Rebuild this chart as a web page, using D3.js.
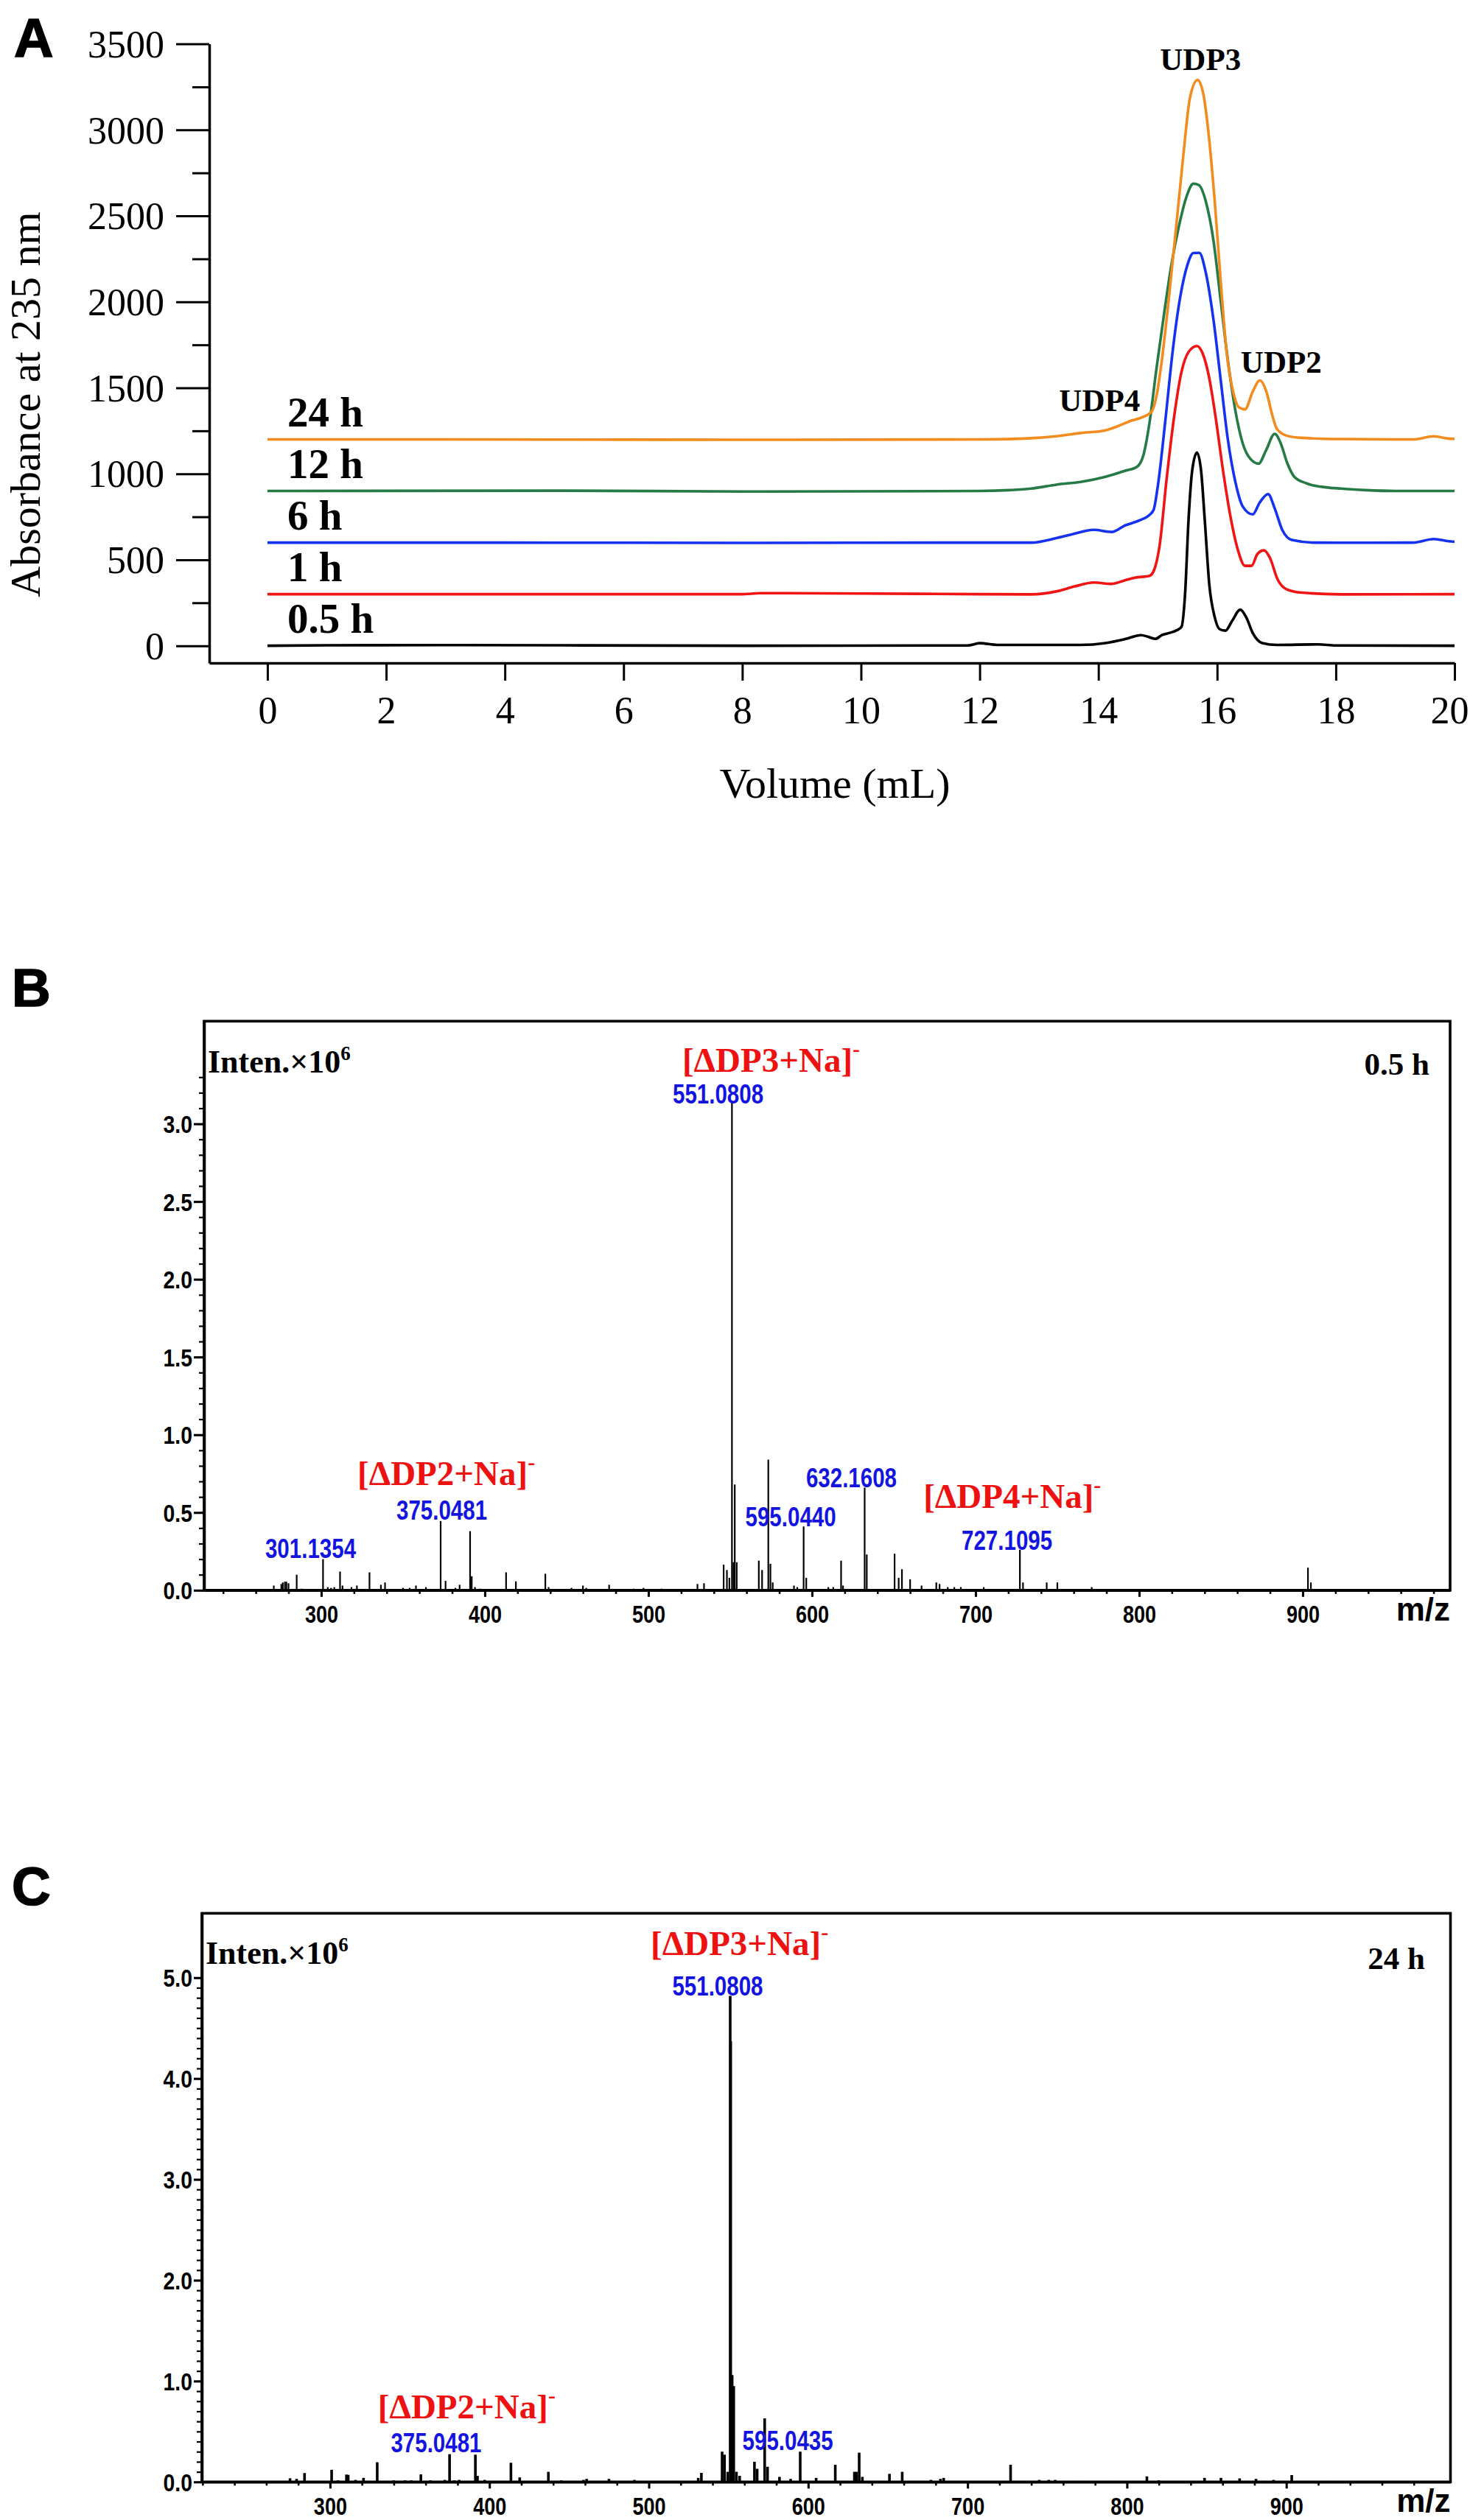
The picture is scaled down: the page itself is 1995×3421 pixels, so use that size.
<!DOCTYPE html>
<html><head><meta charset="utf-8">
<script src="https://cdn.jsdelivr.net/npm/d3@7"></script>
<style>
html,body{margin:0;padding:0;background:#fff;}
svg{display:block;background:#fff;}
</style></head><body>
<svg id="fig" width="1995" height="3421"></svg>
<script>
// ================= DATA =================
// Panel A: SEC chromatograms, [volume (mL), absorbance at 235 nm] (traces stacked with offsets as drawn)
const chromLabels = ["0.5 h", "1 h", "6 h", "12 h", "24 h"];
const chromBaselines = [0, 300, 600, 900, 1200];
const trace05h = [[0,0],[1,3],[3.3,4],[8,0],[11.8,2],[12,15],[12.3,5],[13.7,5],[14.12,16],[14.45,39],[14.72,62],[14.84,52],[14.96,40],[15.07,62],[15.2,75],[15.32,90],[15.4,110],[15.46,300],[15.52,741],[15.58,1018],[15.66,1124],[15.73,1018],[15.79,741],[15.87,350],[15.96,166],[16.04,97],[16.14,88],[16.25,143],[16.39,210],[16.49,166],[16.6,74],[16.76,16],[17.01,5],[17.7,8],[18,2],[20,0]];
const trace1h = [[0,300],[8,300],[8.3,306],[10,304],[12,300],[12.87,299],[13.29,316],[13.6,345],[13.92,368],[14.22,360],[14.42,378],[14.61,396],[14.86,407],[14.94,442],[15.03,580],[15.15,972],[15.27,1317],[15.4,1593],[15.52,1709],[15.66,1743],[15.76,1697],[15.86,1570],[15.98,1317],[16.1,1018],[16.23,742],[16.35,557],[16.47,465],[16.58,465],[16.68,534],[16.79,555],[16.89,511],[17.02,385],[17.18,327],[17.43,309],[18.09,299],[20,300]];
const trace6h = [[0,600],[4,600],[8,598],[12,600],[12.87,600],[13.29,626],[13.55,648],[13.92,674],[14.22,662],[14.45,700],[14.7,730],[14.85,758],[14.93,790],[15.0,926],[15.13,1317],[15.25,1709],[15.38,2031],[15.5,2215],[15.6,2284],[15.7,2285],[15.81,2169],[15.94,1893],[16.06,1547],[16.18,1202],[16.31,949],[16.43,811],[16.6,764],[16.72,834],[16.86,882],[16.97,799],[17.1,672],[17.26,615],[17.63,600],[18.09,599],[19.3,600],[19.65,621],[19.9,608],[20,605]];
const trace12h = [[0,900],[5,902],[8,897],[12,900],[12.5,905],[12.87,914],[13.29,937],[13.7,953],[14.12,983],[14.45,1018],[14.65,1041],[14.76,1110],[14.86,1294],[14.98,1616],[15.11,1939],[15.23,2215],[15.36,2445],[15.48,2607],[15.6,2687],[15.69,2680],[15.81,2584],[15.94,2353],[16.06,2008],[16.18,1663],[16.31,1363],[16.43,1179],[16.56,1087],[16.7,1059],[16.82,1133],[16.97,1232],[17.07,1179],[17.18,1064],[17.3,983],[17.51,944],[17.84,921],[18.09,914],[18.5,905],[19,900],[20,900]];
const trace24h = [[0,1200],[3,1200],[8,1198],[12,1200],[12.87,1207],[13.29,1218],[13.7,1237],[14.12,1253],[14.32,1276],[14.53,1306],[14.74,1329],[14.9,1363],[14.98,1455],[15.07,1663],[15.19,2031],[15.32,2469],[15.44,2883],[15.54,3182],[15.67,3290],[15.77,3205],[15.85,2998],[15.96,2584],[16.06,2123],[16.16,1709],[16.27,1478],[16.37,1386],[16.47,1375],[16.6,1478],[16.72,1543],[16.83,1478],[16.93,1340],[17.01,1260],[17.18,1221],[17.43,1209],[18.09,1202],[19.3,1200],[19.65,1218],[19.9,1205],[20,1203]];
const chromTraces = [trace05h, trace1h, trace6h, trace12h, trace24h];
const volumeTicks = [0,2,4,6,8,10,12,14,16,18,20];
const absTicks = [0,500,1000,1500,2000,2500,3000,3500];
const absMinorTicks = [250,750,1250,1750,2250,2750,3250];
const peakNames = ["UDP4","UDP3","UDP2"];
const peakNameVol = [14.02, 15.72, 17.08];
const peakNameAbs = [1366, 3350, 1586];

// Panel B: MS spectrum 0.5 h (m/z, intensity x10^6)
const mzB  = [271,275.6,276.5,277.8,278.7,280,285,288,301.1,304,306,308,311.5,313,318.5,321.8,329.5,336.5,339,350,354,357.9,364,373,376,382,384.6,391,392,394,397,413,419,437,439,453,460,462,476,491,497,508,530,534,546,548,549.5,551.08,552,552.8,554,567.5,569.5,573.3,574.6,576,589,591,594.9,596.5,610,613,617.8,619,632.2,633.5,650.5,653,655,660,667,676,678,683,687,691,705,727.1,729,743.5,750,771,903.2,905];
const intB = [0.03,0.04,0.05,0.055,0.055,0.045,0.10,0.01,0.20,0.02,0.015,0.02,0.12,0.03,0.02,0.03,0.115,0.035,0.05,0.015,0.015,0.03,0.02,0.445,0.06,0.015,0.035,0.38,0.09,0.02,0.01,0.115,0.057,0.106,0.02,0.015,0.03,0.015,0.035,0.01,0.015,0.01,0.04,0.045,0.164,0.13,0.08,3.15,0.18,0.68,0.18,0.19,0.13,0.84,0.17,0.05,0.03,0.02,0.41,0.08,0.02,0.02,0.19,0.03,0.66,0.23,0.235,0.08,0.135,0.07,0.03,0.05,0.04,0.02,0.02,0.02,0.02,0.26,0.05,0.05,0.05,0.02,0.145,0.05];
// Panel C: MS spectrum 24 h
const mzC  = [274.9,279,284,290,301,305,310.3,311.4,316,321,329.6,340,347,351,357,363,372,375,378,381,391.2,392.5,397,413.5,419,437,445,459,461,475,491,517,531,533,546,547.5,549.5,551.08,551.4,552.3,553.3,555,557,566.3,568,572.7,574.5,582,589,595,605,617,629,630.3,632,634,651,659,677,683,685,727,745,751,755,770,790,812.5,820,848.7,859,870.7,881,892,903.4,927];
const intC = [0.036,0.03,0.088,0.01,0.12,0.015,0.073,0.07,0.02,0.04,0.195,0.015,0.015,0.015,0.075,0.015,0.02,0.275,0.015,0.02,0.27,0.06,0.02,0.19,0.045,0.10,0.015,0.02,0.03,0.03,0.02,0.01,0.04,0.09,0.30,0.27,0.10,4.82,4.37,1.06,0.95,0.10,0.06,0.20,0.13,0.63,0.15,0.05,0.03,0.30,0.04,0.17,0.10,0.10,0.29,0.05,0.08,0.10,0.02,0.03,0.04,0.17,0.02,0.02,0.02,0.01,0.01,0.055,0.015,0.04,0.04,0.035,0.03,0.02,0.068,0.01];
const mzTicks = [300,400,500,600,700,800,900];
const intTicksB = [0,0.5,1.0,1.5,2.0,2.5,3.0];
const intTicksC = [0,1,2,3,4,5];
// annotations (text, anchor in data units: m/z, intensity)
const ionNamesB = [["ΔDP3", 520.7, 3.335], ["ΔDP2", 322.1, 0.675], ["ΔDP4", 668.1, 0.531]];
const mzLabelsB = [["551.0808", 542.6, 3.129], ["375.0481", 373.7, 0.454], ["301.1354", 293.5, 0.2075], ["595.0440", 587.0, 0.411], ["632.1608", 624.1, 0.66], ["727.1095", 719.2, 0.258]];
const ionNamesC = [["ΔDP3", 501.2, 5.222], ["ΔDP2", 330.0, 0.63]];
const mzLabelsC = [["551.0808", 543.2, 4.824], ["375.0481", 366.6, 0.294], ["595.0435", 587.2, 0.316]];

// ================= STYLE =================
const SERIF = "'Liberation Serif','Times New Roman',Times,serif";
const SANS = "'Liberation Sans',Arial,Helvetica,sans-serif";
const traceColors = ["#000000", "#f01414", "#1432f0", "#267a46", "#f28c1e"];
const svg = d3.select("#fig");

function styleAxis(g, font, size, weight, sw) {
  g.selectAll("path.domain").attr("stroke", "#000").attr("stroke-width", sw);
  g.selectAll(".tick line").attr("stroke", "#000").attr("stroke-width", sw * 0.85);
  g.selectAll(".tick text").attr("font-family", font).attr("font-size", size)
    .attr("font-weight", weight).attr("fill", "#000");
}
// horizontally condense text (Arial-Narrow look) by shrinking its advance length
function condense(sel, f) {
  sel.each(function () {
    const len = this.getComputedTextLength();
    if (len > 0) d3.select(this).attr("textLength", len * f).attr("lengthAdjust", "spacingAndGlyphs");
  });
}

// ================= PANEL A =================
const xA = d3.scaleLinear().domain([-0.98, 20]).range([284, 1974]);
const yA = d3.scaleLinear().domain([-100, 3500]).range([900, 59.6]);

svg.append("text").attr("x", 19).attr("y", 77).attr("font-family", SANS)
  .attr("font-size", 74).attr("font-weight", 900).attr("stroke", "#000").attr("stroke-width", 1.6).text("A");

const gAy = svg.append("g").attr("transform", `translate(${xA.range()[0]},0)`)
  .call(d3.axisLeft(yA).tickValues(absTicks).tickSize(45).tickSizeOuter(0).tickPadding(16).tickFormat(d3.format("d")));
styleAxis(gAy, SERIF, 52, 400, 3.5);
gAy.selectAll(".tick text").attr("dy", "0.34em");
const gAym = svg.append("g").attr("transform", `translate(${xA.range()[0]},0)`)
  .call(d3.axisLeft(yA).tickValues(absMinorTicks).tickSize(23).tickSizeOuter(0).tickFormat(""));
gAym.select("path.domain").remove();
styleAxis(gAym, SERIF, 52, 400, 3.5);

const gAx = svg.append("g").attr("transform", `translate(0,${yA.range()[0]})`)
  .call(d3.axisBottom(xA).tickValues(volumeTicks).tickSize(24).tickSizeOuter(0).tickPadding(21).tickFormat(d3.format("d")));
styleAxis(gAx, SERIF, 52, 400, 3.5);
gAx.selectAll(".tick text").filter(d => d === 20).attr("dx", -7);

svg.append("text").attr("x", 1133).attr("y", 1083).attr("text-anchor", "middle")
  .attr("font-family", SERIF).attr("font-size", 58).text("Volume (mL)");
svg.append("text").attr("transform", "translate(54,549) rotate(-90)").attr("text-anchor", "middle")
  .attr("font-family", SERIF).attr("font-size", 58).text("Absorbance at 235 nm");

const lineA = d3.line().x(d => xA(d[0])).y(d => yA(d[1])).curve(d3.curveMonotoneX);
svg.append("g").selectAll("path").data(chromTraces).join("path")
  .attr("d", lineA).attr("fill", "none")
  .attr("stroke", (d, i) => traceColors[i]).attr("stroke-width", 3.6)
  .attr("stroke-linejoin", "round");

svg.append("g").selectAll("text").data(chromLabels).join("text")
  .attr("x", xA(0) + 27).attr("y", (d, i) => yA(chromBaselines[i]) - 18)
  .attr("font-family", SERIF).attr("font-size", 57).attr("font-weight", 700).text(d => d);

svg.append("g").selectAll("text").data(peakNames).join("text")
  .attr("x", (d, i) => xA(peakNameVol[i])).attr("y", (d, i) => yA(peakNameAbs[i]))
  .attr("text-anchor", "middle").attr("font-family", SERIF).attr("font-size", 43)
  .attr("font-weight", 700).text(d => d);

// ================= MS PANELS =================
function msPanel(o) {
  const x = d3.scaleLinear().domain(o.xDomain).range(o.xRange);
  const y = d3.scaleLinear().domain(o.yDomain).range(o.yRange);
  svg.append("text").attr("x", 16).attr("y", o.letterY).attr("font-family", SANS)
    .attr("font-size", 73).attr("font-weight", 900).attr("stroke", "#000").attr("stroke-width", 1.6).text(o.letter);
  // peaks
  svg.append("g").selectAll("line").data(o.mz).join("line")
    .attr("x1", d => x(d)).attr("x2", d => x(d))
    .attr("y1", y(0)).attr("y2", (d, i) => y(o.int[i]))
    .attr("stroke", "#000").attr("stroke-width", o.peakWidth);
  // frame
  svg.append("rect").attr("x", o.xRange[0]).attr("y", o.yRange[1])
    .attr("width", o.xRange[1] - o.xRange[0]).attr("height", o.yRange[0] - o.yRange[1])
    .attr("fill", "none").attr("stroke", "#000").attr("stroke-width", 3.6);
  // axes
  const minorX = d3.range(Math.ceil(o.xDomain[0] / 20) * 20, o.xDomain[1], 20).filter(v => v % 100 !== 0);
  const gxm = svg.append("g").attr("transform", `translate(0,${o.yRange[0]})`)
    .call(d3.axisBottom(x).tickValues(minorX).tickSize(5).tickSizeOuter(0).tickFormat(""));
  gxm.select("path.domain").remove();
  styleAxis(gxm, SANS, 33, 700, 3);
  const gx = svg.append("g").attr("transform", `translate(0,${o.yRange[0]})`)
    .call(d3.axisBottom(x).tickValues(mzTicks).tickSize(9).tickSizeOuter(0).tickPadding(12).tickFormat(d3.format("d")));
  styleAxis(gx, SANS, 33, 700, 3.6);
  condense(gx.selectAll(".tick text"), 0.82);
  const minorY = d3.range(0, o.minorTop + 1e-9, 0.1).map(v => +v.toFixed(1));
  const gym = svg.append("g").attr("transform", `translate(${o.xRange[0]},0)`)
    .call(d3.axisLeft(y).tickValues(minorY).tickSize(7).tickSizeOuter(0).tickFormat(""));
  gym.select("path.domain").remove();
  styleAxis(gym, SANS, 33, 700, 2.6);
  const gy = svg.append("g").attr("transform", `translate(${o.xRange[0]},0)`)
    .call(d3.axisLeft(y).tickValues(o.yTicks).tickSize(o.yTickLen).tickSizeOuter(0).tickPadding(2).tickFormat(d3.format(".1f")));
  styleAxis(gy, SANS, 33, 700, 3.6);
  gy.selectAll(".tick text").attr("dy", "0.36em");
  condense(gy.selectAll(".tick text"), 0.86);
  // m/z
  svg.append("text").attr("x", o.xRange[1]).attr("y", o.yRange[0] + 41).attr("text-anchor", "end")
    .attr("font-family", SANS).attr("font-size", 44).attr("font-weight", 700).text("m/z");
  // Inten. x10^6
  const it = svg.append("text").attr("x", o.xRange[0] + 5).attr("y", o.yRange[1] + o.intenDy)
    .attr("font-family", SERIF).attr("font-size", 44).attr("font-weight", 700);
  it.append("tspan").text("Inten.×10");
  it.append("tspan").attr("font-size", 27).attr("dy", -17).text("6");
  // time
  svg.append("text").attr("x", o.timeX).attr("y", o.yRange[1] + o.timeDy).attr("text-anchor", "end")
    .attr("font-family", SERIF).attr("font-size", 43).attr("font-weight", 700).text(o.time);
  // ion names (red)
  const ions = svg.append("g").selectAll("text").data(o.ions).join("text")
    .attr("x", d => x(d[1])).attr("y", d => y(d[2]))
    .attr("font-family", SERIF).attr("font-size", 47).attr("font-weight", 700).attr("fill", "#ee1111");
  ions.append("tspan").text(d => "[" + d[0] + "+Na]");
  ions.append("tspan").attr("font-size", 30).attr("dy", -21).text("-");
  // m/z values (blue)
  const ml = svg.append("g").selectAll("text").data(o.mzLabels).join("text")
    .attr("x", d => x(d[1])).attr("y", d => y(d[2])).attr("text-anchor", "middle")
    .attr("font-family", SANS).attr("font-size", 36)
    .attr("font-weight", 700).attr("fill", "#1414e0").text(d => d[0]);
  condense(ml, 0.82);
}

msPanel({
  letter: "B", letterY: 1366,
  xDomain: [228.4, 990.1], xRange: [277, 1968],
  yDomain: [0, 3.66], yRange: [2158.8, 1386.3],
  yTicks: intTicksB, yTickLen: 14, minorTop: 3.3,
  mz: mzB, int: intB, peakWidth: 2.2,
  intenDy: 70, time: "0.5 h", timeX: 1940, timeDy: 73,
  ions: ionNamesB, mzLabels: mzLabelsB
});
msPanel({
  letter: "C", letterY: 2586,
  xDomain: [219.6, 1003], xRange: [274, 1968.5],
  yDomain: [0, 5.638], yRange: [3369.3, 2597.4],
  yTicks: intTicksC, yTickLen: 11, minorTop: 5.0,
  mz: mzC, int: intC, peakWidth: 3.6,
  intenDy: 69, time: "24 h", timeX: 1934, timeDy: 76,
  ions: ionNamesC, mzLabels: mzLabelsC
});
</script>
</body></html>
